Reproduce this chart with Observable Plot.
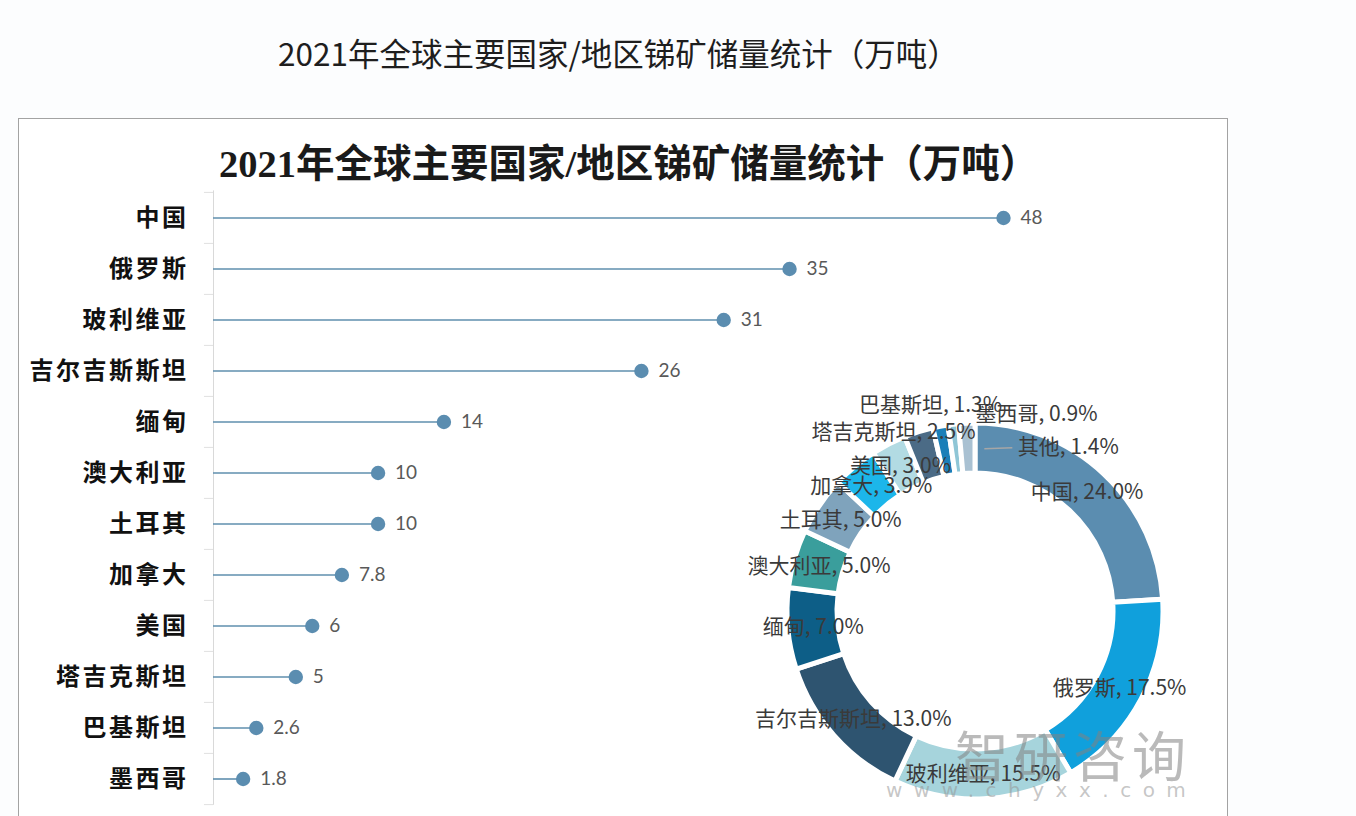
<!DOCTYPE html>
<html>
<head>
<meta charset="utf-8">
<script src="https://cdn.jsdelivr.net/npm/d3@7"></script>
<script src="https://cdn.jsdelivr.net/npm/@observablehq/plot@0.6"></script>
<style>
  html, body { margin: 0; padding: 0; }
  body { width: 1356px; height: 816px; overflow: hidden; position: relative; background: #fcfdfe; font-family: "Noto Sans CJK SC", sans-serif; }
  #outer-title { position: absolute; left: 278px; top: 29px; font-size: 31.5px; color: #1e1e1e; white-space: nowrap; }
  #box { position: absolute; left: 18px; top: 118px; width: 1208px; height: 740px; border: 1px solid #a3a3a3; background: #ffffff; }
  #inner-title { position: absolute; left: 219px; top: 132px; font-family: "Liberation Serif", "Noto Sans CJK SC", serif; font-weight: bold; font-size: 38.5px; color: #1a1a1a; white-space: nowrap; }
  #lolli { position: absolute; left: 0; top: 0; }
  #donut { position: absolute; left: 674.5px; top: 360.5px; }
  #lolli [aria-label="y-axis tick label"] text { letter-spacing: 2.5px; }
  #wm1 { position: absolute; left: 955px; top: 714px; font-size: 54px; letter-spacing: 5px; color: rgba(130,130,130,0.55); white-space: nowrap; font-family: "Noto Sans CJK SC", sans-serif; }
  #wm2 { position: absolute; left: 886px; top: 778px; font-size: 20px; letter-spacing: 11.5px; color: rgba(150,150,150,0.55); white-space: nowrap; font-family: "DejaVu Sans", sans-serif; }
</style>
</head>
<body>
<div id="outer-title">2021年全球主要国家/地区锑矿储量统计（万吨）</div>
<div id="box"></div>
<div id="inner-title">2021年全球主要国家/地区锑矿储量统计（万吨）</div>
<div id="lolli"></div>
<div id="donut"></div>
<div id="wm1">智研咨询</div>
<div id="wm2">www.chyxx.com</div>
<script>
// ---- data ----
const countries = ["中国","俄罗斯","玻利维亚","吉尔吉斯斯坦","缅甸","澳大利亚","土耳其","加拿大","美国","塔吉克斯坦","巴基斯坦","墨西哥"];
const reserves = [48, 35, 31, 26, 14, 10, 10, 7.8, 6, 5, 2.6, 1.8];

const shareNames = ["中国","俄罗斯","玻利维亚","吉尔吉斯斯坦","缅甸","澳大利亚","土耳其","加拿大","美国","塔吉克斯坦","巴基斯坦","墨西哥","其他"];
const shares = [24.0, 17.5, 15.5, 13.0, 7.0, 5.0, 5.0, 3.9, 3.0, 2.5, 1.3, 0.9, 1.4];

// ---- lollipop chart ----
const bars = countries.map((c, i) => ({country: c, value: reserves[i]}));
const bandStep = 51.2;
const boundaries = countries.map((c, i) => ({country: c, dy: -bandStep / 2}))
  .concat([{country: countries[countries.length - 1], dy: bandStep / 2}]);

const lolli = Plot.plot({
  width: 1100,
  height: 816,
  marginTop: 190.4,
  marginBottom: 11.2,
  marginLeft: 213,
  marginRight: 97,
  style: {background: "transparent", fontSize: "24px", fontFamily: "Noto Sans CJK SC, sans-serif", fontWeight: "bold", color: "#111", overflow: "visible"},
  x: {domain: [0, 48], axis: null},
  y: {type: "band", domain: countries, padding: 0, tickSize: 0, tickPadding: 25, label: null},
  marks: [
    Plot.ruleX([0], {stroke: "#d9d9d9", strokeWidth: 1}),
    ...boundaries.map(b => Plot.ruleY([b.country], {x1: -0.55, x2: 0, dy: b.dy, stroke: "#e0e0e0", strokeWidth: 1})),
    Plot.ruleY(bars, {y: "country", x1: 0, x2: "value", stroke: "#5f8fae", strokeWidth: 1.6}),
    Plot.dot(bars, {y: "country", x: "value", r: 7.2, fill: "#5b8db0", stroke: "none"}),
    Plot.text(bars, {y: "country", x: "value", text: d => String(d.value), dx: 17, textAnchor: "start", fill: "#595959", fontSize: 19, fontFamily: "Lato, sans-serif", fontWeight: "normal"})
  ]
});
document.getElementById("lolli").appendChild(lolli);

// ---- donut chart ----
const slices = shareNames.map((n, i) => ({name: n, share: shares[i]}));
const colorScale = Plot.scale({color: {type: "ordinal", domain: shareNames,
  range: ["#5b8db0","#10a0dc","#a6d4dc","#2e5470","#0d5e87","#3a9e9c","#7fa3bc","#1cb6ea","#b2dbe3","#4b6b86","#1a7fb8","#8fc6d6","#a9c1d2"]}});

const W = 600, H = 500, cx = W / 2, cy = H / 2;
const pieData = d3.pie().value(d => d.share).sort(null)(slices);
const ringArc = d3.arc().innerRadius(138).outerRadius(188);
const labelArc = d3.arc().innerRadius(163).outerRadius(163);

// Excel-style label displacement for the crowded small slices (layout only)
const labelNudge = {"塔吉克斯坦": [-33, -24], "巴基斯坦": [-15, -46], "墨西哥": [80, -35], "其他": [100, -1]};

const labels = pieData.map(p => {
  const [lx, ly] = labelArc.centroid(p);
  const n = labelNudge[p.data.name] || [0, 0];
  return {x: cx + lx + n[0], y: cy + ly + n[1], cx: cx + lx, cy: cy + ly,
          text: `${p.data.name}, ${p.data.share.toFixed(1)}%`, name: p.data.name};
});
const leader = labels.filter(d => d.name === "其他");

function donutMark() {
  const g = d3.create("svg:g").attr("transform", `translate(${cx},${cy})`);
  g.selectAll("path").data(pieData).join("path")
    .attr("d", ringArc)
    .attr("fill", d => colorScale.apply(d.data.name))
    .attr("stroke", "#ffffff")
    .attr("stroke-width", 5)
    .attr("stroke-linejoin", "miter");
  return g.node();
}

const donut = Plot.plot({
  width: W, height: H,
  margin: 0,
  style: {background: "transparent", overflow: "visible"},
  x: {type: "identity", axis: null},
  y: {type: "identity", axis: null},
  marks: [
    donutMark,
    Plot.link(leader, {x1: d => d.cx + 16, y1: d => d.cy, x2: d => d.cx + 44, y2: d => d.y, stroke: "#a6a6a6", strokeWidth: 1.5}),
    Plot.text(labels, {x: "x", y: "y", text: "text", fill: "#3a3a3a", fontSize: 21, fontFamily: "Noto Sans CJK SC, sans-serif"})
  ]
});
document.getElementById("donut").appendChild(donut);
</script>
</body>
</html>
